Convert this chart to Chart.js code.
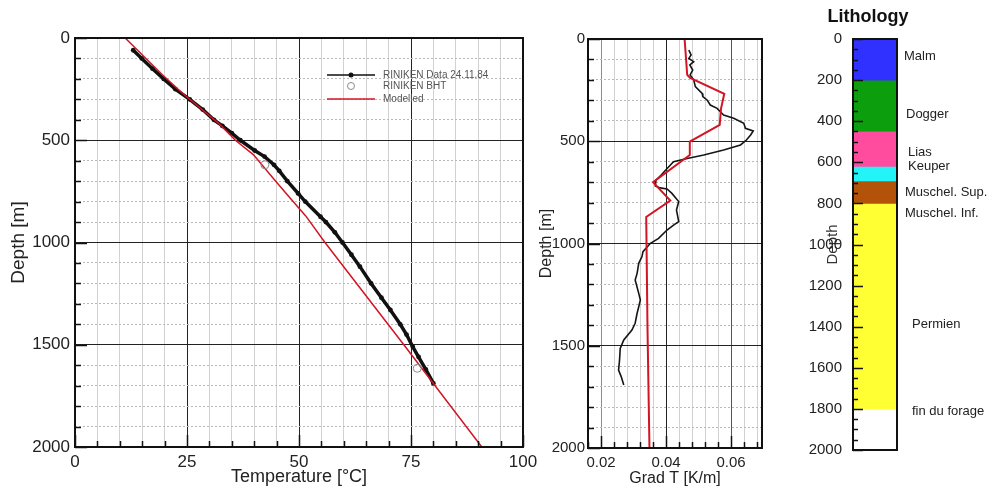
<!DOCTYPE html>
<html>
<head>
<meta charset="utf-8">
<title>RINIKEN temperature log</title>
<script src="https://cdn.jsdelivr.net/npm/chart.js@4.4.1/dist/chart.umd.min.js"></script>
<style>
  html, body { margin: 0; padding: 0; background: #fff; }
  #wrap { position: relative; width: 988px; height: 488px; overflow: hidden; }
  canvas { position: absolute; top: 0; }
  #tempChart { left: 0; }
  #gradChart { left: 530px; }
  #lithoChart { left: 790px; }
</style>
</head>
<body>
<div id="wrap">
  <canvas id="tempChart" width="545" height="488"></canvas>
  <canvas id="gradChart" width="260" height="488"></canvas>
  <canvas id="lithoChart" width="198" height="488"></canvas>
</div>
<script>
// ---- data ----
const seriesNames = ['RINIKEN Data 24.11.84', 'RINIKEN BHT', 'Modelled'];

// measured temperature log (depth m / temperature degC)
const logDepth = [60, 100, 150, 200, 250, 300, 350, 400, 430, 465, 500, 550, 580, 620, 650, 700, 760, 800, 874, 900, 950, 1000, 1060, 1118, 1200, 1270, 1330, 1400, 1450, 1510, 1560, 1620, 1689];
const logTemp  = [13.0, 14.9, 17.3, 19.8, 22.4, 25.6, 28.5, 31.0, 32.9, 35.0, 36.9, 40.1, 42.3, 44.4, 45.6, 47.4, 49.8, 51.4, 54.8, 56.0, 58.0, 59.7, 61.7, 63.6, 66.1, 68.4, 70.4, 72.6, 74.0, 75.4, 76.7, 78.3, 80.0];

// bottom hole temperatures
const bhtDepth = [620, 1615];
const bhtTemp  = [42.4, 76.4];

// modelled temperature
const modelDepth = [0, 180, 270, 420, 500, 570, 700, 790, 870, 1000, 1500, 2000];
const modelTemp  = [11.2, 19.5, 24.0, 32.2, 35.8, 39.8, 44.8, 48.3, 51.5, 55.8, 73.4, 90.8];

// measured gradient (K/m)
const gradLogDepth = [54, 78, 95, 111, 127, 152, 176, 200, 233, 266, 282, 298, 323, 339, 372, 388, 412, 437, 450, 469,
  494, 518, 543, 567, 584, 600, 632, 665, 690, 719, 728, 733, 755, 795, 836, 893, 910, 934, 975, 999,
  1040, 1064, 1097, 1146, 1178, 1244, 1276, 1309, 1341, 1390, 1423, 1472, 1513, 1570, 1619, 1651, 1692];
const gradLog = [0.0470, 0.0477, 0.0470, 0.0485, 0.0473, 0.0482, 0.0474, 0.0485, 0.0490, 0.0511, 0.0513, 0.0526, 0.0536, 0.0557, 0.0577, 0.0608, 0.0639, 0.0644, 0.0668, 0.0660,
  0.0647, 0.0629, 0.0577, 0.0516, 0.0465, 0.0423, 0.0404, 0.0385, 0.0369, 0.0367, 0.0382, 0.0403, 0.0418, 0.0439, 0.0432, 0.0439, 0.0423, 0.0403, 0.0377, 0.0352,
  0.0329, 0.0326, 0.0316, 0.0311, 0.0305, 0.0316, 0.0321, 0.0316, 0.0311, 0.0305, 0.0295, 0.0270, 0.0259, 0.0257, 0.0254, 0.0262, 0.0270];

// modelled gradient
const gradModelDepth = [0, 175, 190, 268, 340, 420, 502, 567, 700, 790, 870, 1420, 2000];
const gradModel      = [0.0457, 0.0465, 0.0474, 0.0579, 0.0569, 0.0565, 0.0473, 0.0473, 0.0360, 0.0413, 0.0339, 0.0343, 0.0349];

// gradient axis ticks
const gradTicks = [0.016, 0.02, 0.024, 0.028, 0.032, 0.036, 0.04, 0.044, 0.048, 0.052, 0.056, 0.06, 0.064, 0.068];
const gradTickLabels = ['', '0.02', '', '', '', '', '0.04', '', '', '', '', '0.06', '', ''];

// lithology column
const layerTop    = [0, 200, 450, 620, 690, 800, 1800];
const layerBase   = [200, 450, 620, 690, 800, 1800, 2000];
const layerColors = ['#3131ff', '#0c9e0c', '#ff4c9f', '#22f4f8', '#b3530a', '#ffff33', '#ffffff'];

// ---- shared setup ----
const FONT = '"Liberation Sans", Arial, Helvetica, sans-serif';
Chart.defaults.font.family = FONT;
Chart.defaults.color = '#222';
Chart.defaults.animation = false;
Chart.defaults.responsive = false;
Chart.defaults.devicePixelRatio = 1;
Chart.defaults.plugins.legend.display = false;
Chart.defaults.plugins.tooltip.enabled = false;

const pts = (xs, ys) => xs.map((x, i) => ({ x: x, y: ys[i] }));
const range = (a, b, s) => { const out = []; for (let v = a; v <= b + 1e-9; v += s) out.push(+v.toFixed(6)); return out; };
const clear = 'rgba(0,0,0,0)';

// black box round the plot area
const frame = {
  id: 'frame',
  afterDatasetsDraw(chart) {
    const { ctx, chartArea: a } = chart;
    ctx.save();
    ctx.strokeStyle = '#111';
    ctx.lineWidth = 2;
    ctx.strokeRect(a.left, a.top, a.right - a.left, a.bottom - a.top);
    ctx.restore();
  }
};

// short tick marks pointing into the plot
const innerTicks = {
  id: 'innerTicks',
  afterDatasetsDraw(chart, args, opts) {
    const { ctx, chartArea: a } = chart;
    ctx.save();
    ctx.strokeStyle = '#111';
    ctx.lineWidth = 1.5;
    (opts.marks || []).forEach(m => {
      const scale = chart.scales[m.scale];
      m.values.forEach((v, i) => {
        const len = m.isMajor(v, i) ? m.majorLen : m.len;
        const p = Math.round(scale.getPixelForValue(v)) + 0.5;
        ctx.beginPath();
        if (m.side === 'left') { ctx.moveTo(a.left, p); ctx.lineTo(a.left + len, p); }
        else { ctx.moveTo(p, a.bottom); ctx.lineTo(p, a.bottom - len); }
        ctx.stroke();
      });
    });
    ctx.restore();
  }
};

// free text placed against the plot area
const notes = {
  id: 'notes',
  afterDraw(chart, args, opts) {
    const { ctx, chartArea: a } = chart;
    const ys = chart.scales.y;
    ctx.save();
    ctx.textBaseline = 'middle';
    (opts.items || []).forEach(n => {
      ctx.font = n.font;
      ctx.fillStyle = n.color || '#222';
      ctx.textAlign = n.align || 'left';
      const y = n.depth !== undefined ? ys.getPixelForValue(n.depth) : a.top + n.dy;
      ctx.fillText(n.text, a.left + n.dx, y);
    });
    ctx.restore();
  }
};

// legend box inside the temperature plot
const tempLegend = {
  id: 'tempLegend',
  afterDraw(chart, args, opts) {
    const { ctx, chartArea: a } = chart;
    const ds = chart.data.datasets;
    const x0 = a.left + opts.x, x1 = x0 + opts.lineLength, xm = (x0 + x1) / 2, tx = x1 + opts.gap;
    ctx.save();
    ctx.font = '10px ' + FONT;
    ctx.textBaseline = 'middle';
    opts.rows.forEach(row => {
      const d = ds[row.dataset];
      const y = a.top + row.dy;
      if (row.kind === 'line' || row.kind === 'linepoint') {
        ctx.strokeStyle = d.borderColor;
        ctx.lineWidth = 1.5;
        ctx.beginPath(); ctx.moveTo(x0, y); ctx.lineTo(x1, y); ctx.stroke();
      }
      if (row.kind === 'linepoint') {
        ctx.fillStyle = d.borderColor;
        ctx.beginPath(); ctx.arc(xm, y, 2.5, 0, Math.PI * 2); ctx.fill();
      }
      if (row.kind === 'circle') {
        ctx.strokeStyle = d.pointBorderColor;
        ctx.lineWidth = 1;
        ctx.beginPath(); ctx.arc(xm, y, 3.5, 0, Math.PI * 2); ctx.stroke();
      }
      ctx.fillStyle = '#555';
      ctx.fillText(d.label, tx, y);
    });
    ctx.restore();
  }
};

function minorDepthAxis(major) {
  return {
    type: 'linear', reverse: true, min: 0, max: 2000, position: 'left',
    afterFit: s => { s.width = 0; },
    ticks: { display: false, stepSize: 100, maxTicksLimit: 100 },
    grid: { drawTicks: false, lineWidth: 1, color: c => (c.tick && c.tick.value % major === 0) ? clear : '#b8b8b8' },
    border: { display: false, dash: [2, 2] }
  };
}

// ---- 1. temperature vs depth ----
new Chart(document.getElementById('tempChart'), {
  type: 'scatter',
  data: {
    datasets: [
      {
        label: seriesNames[0],
        data: pts(logTemp, logDepth),
        showLine: true,
        borderColor: '#111',
        backgroundColor: '#111',
        borderWidth: 3.5,
        pointRadius: 2.4,
        pointBackgroundColor: '#111',
        pointBorderWidth: 0,
        order: 2
      },
      {
        label: seriesNames[1],
        data: pts(bhtTemp, bhtDepth),
        showLine: false,
        pointRadius: 4,
        pointBorderColor: '#8a8a8a',
        pointBackgroundColor: clear,
        pointBorderWidth: 1,
        order: 0
      },
      {
        label: seriesNames[2],
        data: pts(modelTemp, modelDepth),
        showLine: true,
        borderColor: '#d21424',
        borderWidth: 1.5,
        pointRadius: 0,
        order: 1
      }
    ]
  },
  options: {
    layout: { padding: { left: 0, right: 22, top: 38, bottom: 0 } },
    scales: {
      x: {
        type: 'linear', min: 0, max: 100, position: 'bottom',
        afterFit: s => { s.height = 41; },
        ticks: { stepSize: 5, autoSkip: false, maxRotation: 0, padding: 5, font: { size: 17 }, callback: v => v % 25 === 0 ? v : '' },
        grid: { drawTicks: false, lineWidth: 1, color: c => (c.tick && c.tick.value % 25 === 0) ? '#222' : '#d2d2d2' },
        border: { display: false, dash: [] },
        title: { display: true, text: 'Temperature [°C]', font: { size: 18 }, padding: { top: 0, bottom: 0 } }
      },
      y: {
        type: 'linear', reverse: true, min: 0, max: 2000, position: 'left',
        afterFit: s => { s.width = 75; },
        ticks: { stepSize: 100, autoSkip: false, maxTicksLimit: 100, padding: 5, font: { size: 17 }, callback: v => v % 500 === 0 ? v : '' },
        grid: { drawTicks: false, lineWidth: 1, color: c => (c.tick && c.tick.value % 500 === 0) ? '#222' : clear },
        border: { display: false },
        title: { display: true, text: 'Depth [m]', font: { size: 19 }, padding: { top: 7, bottom: 0 } }
      },
      yMinor: minorDepthAxis(500)
    },
    plugins: {
      innerTicks: {
        marks: [
          { scale: 'y', side: 'left', values: range(0, 2000, 100), isMajor: v => v % 500 === 0, len: 6, majorLen: 12 },
          { scale: 'x', side: 'bottom', values: range(0, 100, 5), isMajor: v => v % 25 === 0, len: 6, majorLen: 12 }
        ]
      },
      tempLegend: {
        x: 252, lineLength: 48, gap: 8,
        rows: [
          { dataset: 0, kind: 'linepoint', dy: 37 },
          { dataset: 1, kind: 'circle', dy: 48 },
          { dataset: 2, kind: 'line', dy: 61 }
        ]
      }
    }
  },
  plugins: [frame, innerTicks, tempLegend]
});

// ---- 2. gradient vs depth ----
new Chart(document.getElementById('gradChart'), {
  type: 'scatter',
  data: {
    datasets: [
      {
        label: 'Grad T measured',
        data: pts(gradLog, gradLogDepth),
        showLine: true,
        borderColor: '#151515',
        borderWidth: 1.6,
        pointRadius: 0,
        order: 1
      },
      {
        label: 'Grad T modelled',
        data: pts(gradModel, gradModelDepth),
        showLine: true,
        borderColor: '#d21424',
        borderWidth: 2,
        pointRadius: 0,
        order: 0
      }
    ]
  },
  options: {
    layout: { padding: { left: 0, right: 28, top: 39, bottom: 0 } },
    scales: {
      x: {
        type: 'linear', min: 0.016, max: 0.0695, position: 'bottom',
        afterFit: s => { s.height = 40; },
        afterBuildTicks: s => { s.ticks = gradTicks.map(v => ({ value: v })); },
        ticks: { autoSkip: false, maxRotation: 0, padding: 6, font: { size: 15 }, callback: (v, i) => gradTickLabels[i] },
        grid: {
          drawTicks: false, lineWidth: 1,
          color: c => {
            if (!c.tick) return '#d2d2d2';
            const v = Math.round(c.tick.value * 1000);
            return v === 40 ? '#222' : v === 60 ? '#555' : v === 20 ? '#8c8c8c' : '#d2d2d2';
          }
        },
        border: { display: false, dash: [] },
        title: { display: true, text: 'Grad T [K/m]', font: { size: 16 }, padding: { top: 0, bottom: 0 } }
      },
      y: {
        type: 'linear', reverse: true, min: 0, max: 2000, position: 'left',
        afterFit: s => { s.width = 58; },
        ticks: { stepSize: 100, autoSkip: false, maxTicksLimit: 100, padding: 3, font: { size: 15 }, callback: v => v % 500 === 0 ? v : '' },
        grid: { drawTicks: false, lineWidth: 1, color: c => (c.tick && c.tick.value % 500 === 0) ? '#222' : clear },
        border: { display: false },
        title: { display: true, text: 'Depth [m]', font: { size: 16 }, padding: { top: 7, bottom: 0 } }
      },
      yMinor: minorDepthAxis(500)
    },
    plugins: {
      innerTicks: {
        marks: [
          { scale: 'y', side: 'left', values: range(0, 2000, 100), isMajor: v => v % 500 === 0, len: 6, majorLen: 12 },
          { scale: 'x', side: 'bottom', values: gradTicks, isMajor: (v, i) => gradTickLabels[i] !== '', len: 6, majorLen: 12 }
        ]
      }
    }
  },
  plugins: [frame, innerTicks]
});

// ---- 3. lithology column ----
new Chart(document.getElementById('lithoChart'), {
  type: 'bar',
  data: {
    labels: [''],
    datasets: layerTop.map((top, i) => ({
      label: 'layer ' + i,
      data: [[top, layerBase[i]]],
      backgroundColor: layerColors[i],
      borderWidth: 0,
      grouped: false,
      barPercentage: 1,
      categoryPercentage: 1
    }))
  },
  options: {
    layout: { padding: { left: 0, right: 91, top: 39, bottom: 38 } },
    scales: {
      x: { display: false },
      y: {
        type: 'linear', reverse: true, min: 0, max: 2000, position: 'left',
        afterFit: s => { s.width = 63; },
        ticks: { stepSize: 200, autoSkip: false, padding: 3, font: { size: 15 }, color: '#222', callback: v => String(v) },
        grid: { display: false },
        border: { display: false },
        title: { display: true, text: 'Depth', font: { size: 15 }, color: '#333', padding: { top: 34, bottom: 0 } }
      }
    },
    plugins: {
      innerTicks: {
        marks: [
          { scale: 'y', side: 'left', values: range(0, 2000, 50), isMajor: v => v % 200 === 0, len: 5, majorLen: 10 }
        ]
      },
      notes: {
        items: [
          { text: 'Lithology', dx: 15, dy: -22, align: 'center', font: 'bold 18px ' + FONT, color: '#111' },
          { text: 'Malm', depth: 83, dx: 51, font: '13px ' + FONT },
          { text: 'Dogger', depth: 365, dx: 53, font: '13px ' + FONT },
          { text: 'Lias', depth: 550, dx: 55, font: '13px ' + FONT },
          { text: 'Keuper', depth: 618, dx: 55, font: '13px ' + FONT },
          { text: 'Muschel. Sup.', depth: 749, dx: 52, font: '13px ' + FONT },
          { text: 'Muschel. Inf.', depth: 847, dx: 52, font: '13px ' + FONT },
          { text: 'Permien', depth: 1387, dx: 59, font: '13px ' + FONT },
          { text: 'fin du forage', depth: 1810, dx: 59, font: '13px ' + FONT }
        ]
      }
    }
  },
  plugins: [frame, innerTicks, notes]
});
</script>
</body>
</html>
